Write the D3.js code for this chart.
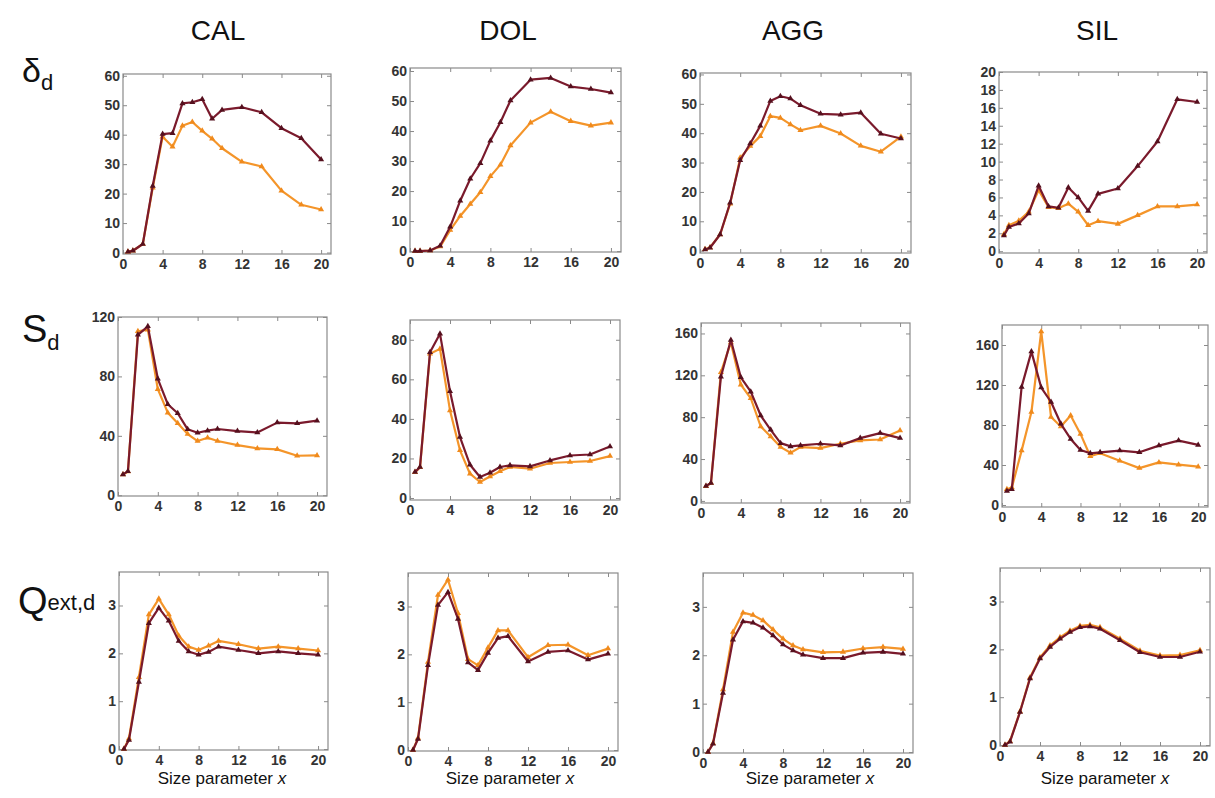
<!DOCTYPE html>
<html><head><meta charset="utf-8">
<script src="https://cdn.jsdelivr.net/npm/d3@7"></script>
<style>body{margin:0;background:#fff}svg{display:block}</style>
</head><body>
<script>
const xs = [0.5,1,2,3,4,5,6,7,8,9,10,12,14,16,18,20];
const columns = ["CAL","DOL","AGG","SIL"];
const xTicks = [0,4,8,12,16,20];

// δd
const deltaDark = {
  CAL:[0.3,0.6,2.9,22.6,40.2,40.5,50.6,51.0,52.0,45.4,48.4,49.3,47.6,42.2,38.8,31.6],
  DOL:[0,0,0.2,1.8,8.1,16.8,24.1,29.3,36.8,42.9,50.2,57.1,57.7,54.8,54.0,52.8],
  AGG:[0.4,1.0,5.5,16.3,30.8,36.5,42.5,51.0,52.6,51.8,49.5,46.6,46.3,47.0,39.8,38.2],
  SIL:[1.75,2.7,3.1,4.2,7.3,5.0,4.85,7.1,6.0,4.5,6.4,7.0,9.5,12.25,16.95,16.65]
};
const deltaLight = {
  CAL:[0.3,0.6,2.9,22.0,39.3,35.9,43.0,44.3,41.3,38.6,35.4,30.8,29.2,21.0,16.2,14.6],
  DOL:[0,0,0.2,1.5,7.0,11.7,15.7,19.6,24.9,28.8,35.2,42.8,46.4,43.3,41.8,42.8],
  AGG:[0.5,1.1,5.5,16.0,31.6,35.6,39.0,45.8,45.2,43.0,41.0,42.5,39.9,35.7,33.7,38.8],
  SIL:[1.9,2.9,3.4,4.4,6.8,4.9,4.8,5.3,4.4,2.9,3.35,3.05,4.0,5.0,5.0,5.2]
};
// Sd
const sDark = {
  CAL:[14.0,16.2,108,113.7,78.4,61.3,55.2,44.4,42.1,43.5,44.6,43.2,42.3,48.9,48.4,50.2],
  DOL:[13.1,15.7,73.7,83.0,54.0,30.8,16.8,10.6,12.8,15.7,16.5,16.0,19.0,21.5,22.0,26.1],
  AGG:[14.3,17.1,118.7,153.7,118.1,104.4,81.6,67.9,55.2,52.1,53.0,54.6,53.0,60.0,64.8,60.0],
  SIL:[14.1,15.8,118.1,153.4,117.4,103.0,81.2,66.1,55.0,51.7,52.7,54.4,52.7,59.4,64.4,60.1]
};
const sLight = {
  CAL:[14.0,16.0,110.4,111.5,71.4,55.6,48.4,41.2,36.5,38.7,36.5,33.8,31.5,30.9,26.6,26.8],
  DOL:[13.0,15.5,72.9,75.4,44.3,24.1,12.3,8.1,10.9,13.5,15.7,14.8,17.7,18.2,18.7,21.2],
  AGG:[14.0,17.0,122.9,151.4,111.1,98.1,71.1,61.6,51.4,46.0,51.4,50.5,54.6,57.8,58.7,67.3],
  SIL:[15.8,17.4,54.4,93.0,173.5,88.0,78.5,89.6,71.1,48.7,51.7,44.3,36.9,42.6,40.3,38.3]
};
// Qext,d
const qDark = {
  CAL:[0.0,0.19,1.40,2.63,2.95,2.68,2.26,2.04,1.97,2.03,2.14,2.07,2.00,2.04,2.00,1.97],
  DOL:[0.0,0.23,1.77,3.03,3.30,2.74,1.83,1.67,2.03,2.34,2.38,1.85,2.05,2.08,1.89,2.01],
  AGG:[0.0,0.17,1.22,2.32,2.70,2.67,2.57,2.41,2.22,2.10,2.01,1.94,1.94,2.05,2.07,2.03],
  SIL:[0.0,0.07,0.69,1.39,1.81,2.05,2.22,2.36,2.46,2.48,2.43,2.19,1.94,1.84,1.84,1.95]
};
const qLight = {
  CAL:[0.0,0.22,1.50,2.81,3.14,2.81,2.37,2.14,2.07,2.16,2.26,2.19,2.10,2.14,2.10,2.06],
  DOL:[0.0,0.25,1.84,3.24,3.56,2.86,1.90,1.77,2.14,2.50,2.50,1.94,2.19,2.20,1.98,2.12],
  AGG:[0.0,0.18,1.29,2.48,2.88,2.83,2.72,2.53,2.34,2.20,2.12,2.06,2.07,2.14,2.17,2.13],
  SIL:[0.0,0.08,0.70,1.41,1.83,2.08,2.25,2.39,2.49,2.51,2.46,2.22,1.97,1.87,1.88,1.98]
};

const yTicks = {
  delta:{CAL:[0,10,20,30,40,50,60],DOL:[0,10,20,30,40,50,60],AGG:[0,10,20,30,40,50,60],SIL:[0,2,4,6,8,10,12,14,16,18,20]},
  s:{CAL:[0,40,80,120],DOL:[0,20,40,60,80],AGG:[0,40,80,120,160],SIL:[0,40,80,120,160]},
  q:{CAL:[0,1,2,3],DOL:[0,1,2,3],AGG:[0,1,2,3],SIL:[0,1,2,3]}
};
const yDomains = {
  delta:{CAL:[-0.5,60.6],DOL:[-0.3,61],AGG:[-0.8,60.5],SIL:[-0.2,20]},
  s:{CAL:[-0.5,120],DOL:[-1,90],AGG:[-2,170],SIL:[-2,180]},
  q:{CAL:[-0.02,3.7],DOL:[-0.02,3.7],AGG:[-0.02,3.7],SIL:[-0.02,3.7]}
};

// layout (frame boxes: left, top, right, bottom)
const frames = {
  delta:{CAL:[123,74,331,254],DOL:[410,68,621,252],AGG:[700,73,911,253],SIL:[999,72,1207,253]},
  s:{CAL:[118,317,327,496],DOL:[410,320,620,500],AGG:[701,323,910,503],SIL:[1002,325,1208,507]},
  q:{CAL:[119,572,328,750],DOL:[408,573,618,751],AGG:[703,573,913,753],SIL:[1000,568,1210,746]}
};
const rowData = {delta:[deltaDark,deltaLight], s:[sDark,sLight], q:[qDark,qLight]};

const W=1215,H=798;
const svg = d3.select("body").append("svg").attr("width",W).attr("height",H)
  .style("font-family","'Liberation Sans',Arial,sans-serif");

const darkCol="#7a1a2c", lightCol="#f4952a";
const tri = d3.symbol().type(d3.symbolTriangle).size(16);
const fmt = d3.format("~g");

for (const row of ["delta","s","q"]) {
  for (const col of columns) {
    const [l,t,r,b] = frames[row][col];
    const x = d3.scaleLinear().domain([0,21]).range([l,r]);
    const y = d3.scaleLinear().domain(yDomains[row][col]).range([b,t]);
    const g = svg.append("g");
    g.append("rect").attr("x",l).attr("y",t).attr("width",r-l).attr("height",b-t)
      .attr("fill","none").attr("stroke","#8a8a8a").attr("stroke-width",1.2);
    const ax = g.append("g").attr("transform",`translate(0,${b})`)
      .call(d3.axisBottom(x).tickValues(xTicks).tickSize(-4).tickPadding(3).tickFormat(fmt));
    const ay = g.append("g").attr("transform",`translate(${l},0)`)
      .call(d3.axisLeft(y).tickValues(yTicks[row][col]).tickSize(-4).tickPadding(3).tickFormat(fmt));
    g.append("g").attr("transform",`translate(0,${t})`)
      .call(d3.axisTop(x).tickValues(xTicks).tickSize(-4).tickFormat(""));
    g.append("g").attr("transform",`translate(${r},0)`)
      .call(d3.axisRight(y).tickValues(yTicks[row][col]).tickSize(-4).tickFormat(""));
    g.selectAll(".domain").remove();
    g.selectAll(".tick line").attr("stroke","#8a8a8a");
    g.selectAll(".tick text").attr("font-size",14).attr("font-weight","bold")
      .attr("fill","#333").attr("font-family","'Liberation Sans',Arial,sans-serif");
    ax.selectAll(".tick text").attr("dy","0.75em").attr("y",4);

    const [dk, lt] = rowData[row];
    const line = d3.line().x((d,i)=>x(xs[i])).y(d=>y(d));
    const series = [[lt[col], lightCol, "#f08a1c"], [dk[col], darkCol, "#55101e"]];
    for (const [vals,c,mc] of series) {
      g.append("path").datum(vals).attr("d",line).attr("fill","none")
        .attr("stroke",c).attr("stroke-width",2.2).attr("stroke-linejoin","round");
      g.selectAll(null).data(vals).enter().append("path")
        .attr("d",tri).attr("fill",mc)
        .attr("transform",(d,i)=>`translate(${x(xs[i])},${y(d)})`);
    }
  }
}

const titleX = {CAL:218,DOL:508,AGG:793,SIL:1097};
for (const col of columns) {
  svg.append("text").attr("x",titleX[col]).attr("y",40).attr("text-anchor","middle")
    .attr("font-size",28).attr("fill","#111").text(col);
}
const xlabX = {CAL:222,DOL:510,AGG:810,SIL:1105};
for (const col of columns) {
  const tx = svg.append("text").attr("x",xlabX[col]).attr("y",784).attr("text-anchor","middle")
    .attr("font-size",17).attr("fill","#111");
  tx.append("tspan").text("Size parameter ");
  tx.append("tspan").attr("font-style","italic").text("x");
}
const rl1 = svg.append("text").attr("x",22).attr("y",82).attr("font-size",34).attr("fill","#111");
rl1.append("tspan").text("δ");
rl1.append("tspan").attr("font-size",22).attr("dy",8).text("d");
const rl2 = svg.append("text").attr("x",22).attr("y",342).attr("font-size",38).attr("fill","#111");
rl2.append("tspan").text("S");
rl2.append("tspan").attr("font-size",22).attr("dy",8).text("d");
const rl3 = svg.append("text").attr("x",18).attr("y",614).attr("font-size",38).attr("fill","#111");
rl3.append("tspan").text("Q");
rl3.append("tspan").attr("font-size",22).attr("dy",-4).text("ext,d");
</script>
</body></html>
